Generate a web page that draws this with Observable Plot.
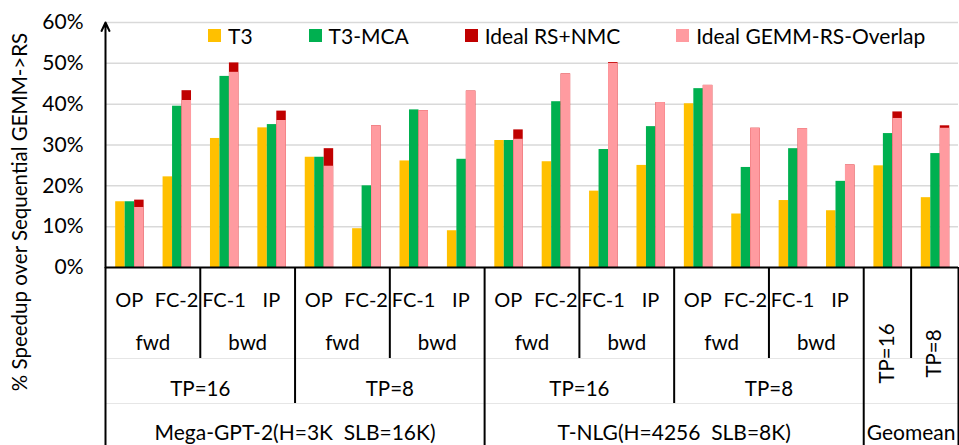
<!DOCTYPE html>
<html><head><meta charset="utf-8">
<script src="https://cdn.jsdelivr.net/npm/d3@7"></script>
<script src="https://cdn.jsdelivr.net/npm/@observablehq/plot@0.6"></script>
<style>
body{margin:0;background:#fff;}
#wrap{position:relative;width:959px;height:445px;overflow:hidden;}
#legend{position:absolute;top:25px;left:208px;display:flex;gap:56px;font-family:Lato,sans-serif;font-size:21px;color:#000;line-height:21px;}
#legend .it{display:flex;align-items:center;gap:7px;}
#legend .sw{width:13px;height:13px;display:inline-block;}
</style></head><body><div id="wrap"><div id="legend"></div></div>
<script>
// ---- data ----
const layers = ["OP", "FC-2", "FC-1", "IP"];
const passes = ["fwd", "bwd"];
const tpConfigs = ["TP=16", "TP=8"];
const models = ["Mega-GPT-2(H=3K\u00a0 SLB=16K)", "T-NLG(H=4256\u00a0 SLB=8K)"];
const geomeanLabel = "Geomean";
const seriesNames = ["T3", "T3-MCA", "Ideal RS+NMC", "Ideal GEMM-RS-Overlap"];
const seriesColors = ["#FFC000", "#00B050", "#C00000", "#FF9BA0"];
const yTitle = "% Speedup over Sequential GEMM->RS";
const yTicks = [0, 10, 20, 30, 40, 50, 60];
// 16 model groups (2 models x 2 TP x 4 layers) + 2 geomean groups
const t3           = [16.1, 22.2, 31.6, 34.2, 27.0,  9.5, 26.1,  9.0, 31.1, 25.9, 18.7, 25.0, 40.1, 13.1, 16.4, 13.9, 24.9, 17.1];
const t3mca        = [16.1, 39.5, 46.8, 35.0, 27.0, 20.0, 38.6, 26.5, 31.1, 40.6, 28.9, 34.5, 43.8, 24.5, 29.1, 21.1, 32.8, 27.9];
const idealRsNmc   = [16.5, 43.3, 50.1, 38.3, 29.1, 34.7, 38.4, 43.2, 33.7, 47.4, 50.2, 40.4, 44.6, 34.1, 34.0, 25.1, 38.1, 34.7];
const idealOverlap = [14.7, 40.9, 47.8, 36.0, 24.8, 34.7, 38.4, 43.2, 31.4, 47.4, 50.0, 40.4, 44.6, 34.1, 34.0, 25.1, 36.5, 34.1];

// ---- structure ----
const groups = [];
models.forEach((m, mi) => tpConfigs.forEach((tp, ti) => layers.forEach((l, li) => {
  groups.push({i: groups.length, model: m, tp, pass: passes[Math.floor(li / 2)], layer: l});
})));
tpConfigs.forEach(tp => groups.push({i: groups.length, model: geomeanLabel, tp, pass: null, layer: null, geo: true}));
const N = groups.length;

const rows = [];
const seriesVals = [t3, t3mca, idealRsNmc, idealOverlap];
const slots = [0, 1, 2, 2];
seriesVals.forEach((vals, s) => vals.forEach((v, i) => rows.push({i, slot: slots[s], series: seriesNames[s], value: v})));

// boundaries
const bounds = [];
for (let i = 0; i <= N; i++) {
  const a = groups[i - 1], b = groups[i];
  let level = 0;
  if (!a || !b || a.model !== b.model) level = 3;
  else if (a.tp !== b.tp) level = b.geo ? 1 : 2;
  else if (a.pass !== b.pass) level = 1;
  if (level) bounds.push({x: i, level});
}
const spanCenters = (key) => {
  const out = [];
  let start = 0;
  for (let i = 1; i <= N; i++) {
    if (i === N || key(groups[i]) !== key(groups[start])) {
      out.push({x: (start + i) / 2, label: key(groups[start]), g: groups[start]});
      start = i;
    }
  }
  return out;
};
const passSpans = spanCenters(g => g.geo ? "g" + g.i : g.model + g.tp + g.pass).filter(d => !d.g.geo).map(d => ({x: d.x, label: d.g.pass}));
const tpSpans = spanCenters(g => g.geo ? "g" + g.i : g.model + g.tp).filter(d => !d.g.geo).map(d => ({x: d.x, label: d.g.tp}));
const modelSpans = spanCenters(g => g.model);
const geoTP = groups.filter(g => g.geo).map(g => ({x: g.i + 0.5, label: g.tp}));
const layerLabels = groups.filter(g => !g.geo).map(g => ({x: g.i + 0.5, label: g.layer}));

const W = 959, H = 445, mt = 22, mb = 178, ml = 105, mr = 1;
const frameH = H - mt - mb;
const font = "Lato, sans-serif";

const chart = Plot.plot({
  width: W, height: H,
  marginTop: mt, marginBottom: mb, marginLeft: ml, marginRight: mr,
  style: {fontFamily: font, fontSize: "21px", color: "#000", background: "#fff"},
  x: {type: "linear", domain: [0, N], axis: null},
  y: {domain: [0, 60], ticks: yTicks, tickFormat: d => d + "%", tickSize: 0, tickPadding: 22, label: null},
  color: {domain: seriesNames, range: seriesColors},
  marks: [
    Plot.ruleY(yTicks.slice(1), {stroke: "#d9d9d9", strokeWidth: 1.5}),
    Plot.rect(rows, {x1: d => d.i + 0.215 + 0.2 * d.slot, x2: d => d.i + 0.415 + 0.2 * d.slot, y1: 0, y2: "value", fill: "series"}),
    Plot.ruleY([0], {stroke: "#000", strokeWidth: 2}),
    Plot.ruleY([0], {stroke: "#e6e6e6", strokeWidth: 1, dy: 91}),
    Plot.ruleY([0], {stroke: "#e6e6e6", strokeWidth: 1, dy: 136}),
    Plot.arrow([0], {x1: 0, x2: 0, y1: 0, y2: 60, stroke: "#000", strokeWidth: 2, headLength: 7, headAngle: 50}),
    Plot.ruleX(bounds.filter(d => d.level === 1), {x: "x", stroke: "#000", strokeWidth: 2, insetTop: frameH, insetBottom: -91}),
    Plot.ruleX(bounds.filter(d => d.level === 2), {x: "x", stroke: "#000", strokeWidth: 2, insetTop: frameH, insetBottom: -136}),
    Plot.ruleX(bounds.filter(d => d.level === 3), {x: "x", stroke: "#000", strokeWidth: 2, insetTop: frameH, insetBottom: -180}),
    Plot.text(layerLabels, {x: "x", text: "label", frameAnchor: "bottom", dy: 33, lineAnchor: "middle", fontSize: 20}),
    Plot.text(passSpans, {x: "x", text: "label", frameAnchor: "bottom", dy: 76, lineAnchor: "middle", fontSize: 20.5}),
    Plot.text(tpSpans, {x: "x", text: "label", frameAnchor: "bottom", dy: 122, lineAnchor: "middle", fontSize: 20.5}),
    Plot.text(modelSpans, {x: "x", text: "label", frameAnchor: "bottom", dy: 166, lineAnchor: "middle", fontSize: 21}),
    Plot.text(geoTP, {x: "x", text: "label", frameAnchor: "bottom", dy: 86, rotate: -90, textAnchor: "middle", lineAnchor: "middle", fontSize: 20.5}),
    Plot.text([yTitle], {text: d => d, frameAnchor: "left", dx: -85, dy: 67, rotate: -90, textAnchor: "middle", lineAnchor: "middle", fontSize: 20.5})
  ]
});
document.getElementById("wrap").prepend(chart);

const legend = document.getElementById("legend");
seriesNames.forEach((name, k) => {
  const it = document.createElement("div");
  it.className = "it";
  const sw = document.createElement("span");
  sw.className = "sw";
  sw.style.background = seriesColors[k];
  const tx = document.createElement("span");
  tx.textContent = name;
  it.append(sw, tx);
  legend.append(it);
});
</script></body></html>
